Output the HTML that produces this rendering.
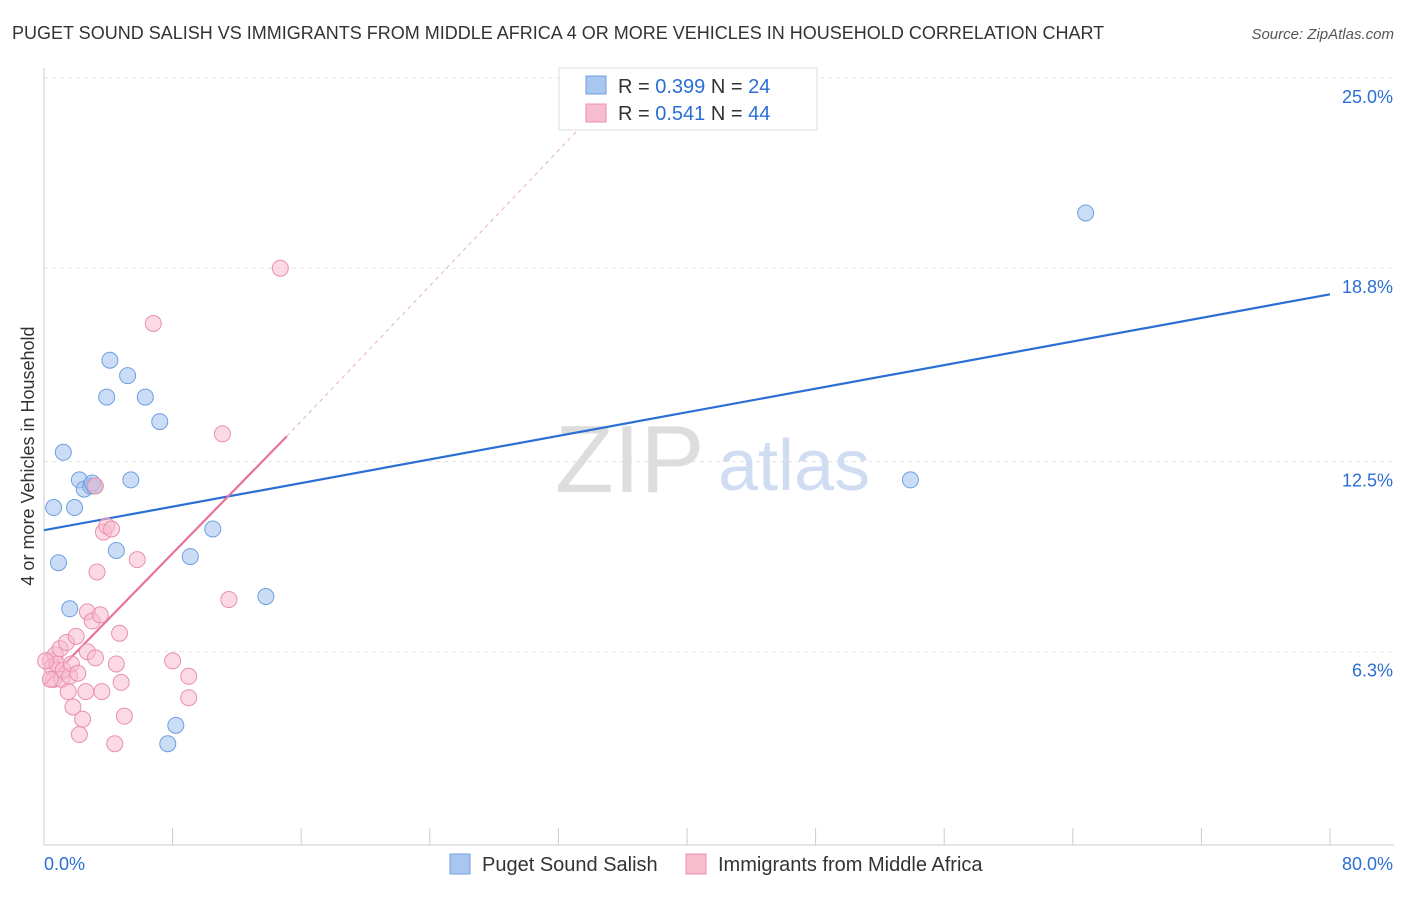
<!DOCTYPE html>
<html><head><meta charset="utf-8"><style>
body{margin:0;background:#fff;font-family:"Liberation Sans",sans-serif;}
svg text{font-family:"Liberation Sans",sans-serif;}
</style></head><body>
<svg width="1406" height="892" xmlns="http://www.w3.org/2000/svg">
<text x="12" y="39" font-size="18" fill="#333">PUGET SOUND SALISH VS IMMIGRANTS FROM MIDDLE AFRICA 4 OR MORE VEHICLES IN HOUSEHOLD CORRELATION CHART</text>
<text x="1394" y="39" font-size="15" fill="#555" text-anchor="end" font-style="italic">Source: ZipAtlas.com</text>
<g id="grid"></g>
<text x="555" y="492" font-size="96" fill="#ddd" font-family="Liberation Serif">ZIP</text>
<text x="718" y="490" font-size="72" fill="#cfdcf2">atlas</text>
<g id="axes"></g>
<g id="lines"></g>
<g id="pts"></g>
<text x="34" y="456" font-size="18" fill="#333" text-anchor="middle" transform="rotate(-90 34 456)">4 or more Vehicles in Household</text>
<g>
<rect x="559" y="68" width="258" height="62" fill="#fff" stroke="#ddd"/>
<rect x="586" y="76" width="20" height="18" fill="#a9c6f0" stroke="#6f9fe0"/>
<rect x="586" y="104" width="20" height="18" fill="#f7bccd" stroke="#e890ad"/>
<text x="618" y="93" font-size="20" fill="#333">R = <tspan fill="#2b6fd4">0.399</tspan>   N = <tspan fill="#2b6fd4">24</tspan></text>
<text x="618" y="120" font-size="20" fill="#333">R = <tspan fill="#2b6fd4">0.541</tspan>   N = <tspan fill="#2b6fd4">44</tspan></text>
</g>
<g>
<rect x="450" y="854" width="20" height="20" fill="#a9c6f0" stroke="#6f9fe0"/>
<text x="482" y="871" font-size="20" fill="#333">Puget Sound Salish</text>
<rect x="686" y="854" width="20" height="20" fill="#f7bccd" stroke="#e890ad"/>
<text x="718" y="871" font-size="20" fill="#333">Immigrants from Middle Africa</text>
</g>
</svg>
<script>
const yTicks=[25.0,18.8,12.5,6.3];
const yTickLabels=["25.0%","18.8%","12.5%","6.3%"];
const xTicks=[0,8,16,24,32,40,48,56,64,72,80];
const blueX=[0.6,0.9,1.2,1.6,1.9,2.2,2.5,2.9,3.1,4.1,3.9,4.5,5.2,5.4,6.3,7.2,8.2,7.7,9.1,10.5,13.8,53.9,64.8,3.0];
const blueY=[11.0,9.2,12.8,7.7,11.0,11.9,11.6,11.7,11.7,15.8,14.6,9.6,15.3,11.9,14.6,13.8,3.9,3.3,9.4,10.3,8.1,11.9,20.6,11.8];
const pinkX=[0.4,0.5,0.6,0.7,0.8,1.0,1.1,1.2,1.4,1.5,1.6,1.7,1.8,2.0,2.1,2.2,2.4,2.6,2.7,2.7,3.0,3.2,3.3,3.5,3.6,3.7,3.9,4.2,4.4,4.5,4.7,4.8,5.0,5.8,6.8,8.0,9.0,9.0,11.1,11.5,14.7,3.2,0.1,0.4];
const pinkY=[6.0,5.8,5.4,6.2,5.9,6.4,5.4,5.7,6.6,5.0,5.5,5.9,4.5,6.8,5.6,3.6,4.1,5.0,6.3,7.6,7.3,6.1,8.9,7.5,5.0,10.2,10.4,10.3,3.3,5.9,6.9,5.3,4.2,9.3,17.0,6.0,5.5,4.8,13.4,8.0,18.8,11.7,6.0,5.4];
const blueLine=[[0,10.26],[80,17.95]];
const pinkLine=[[0,5.21],[15.1,13.32]];
const pinkDash=[[15.1,13.32],[33.2,23.3]];
const NS="http://www.w3.org/2000/svg";
const X=v=>44+v*16.075, Y=v=>845-v*30.68;
function mk(p,t,a){const e=document.createElementNS(NS,t);for(const k in a)e.setAttribute(k,a[k]);document.getElementById(p).appendChild(e);return e;}
yTicks.forEach((t,i)=>{
 let l=mk('grid','line',{x1:44,x2:1394,y1:Y(t),y2:Y(t),stroke:'#e3e3e3','stroke-dasharray':'4,4'});
 
 
 let tx=mk('grid','text',{x:1393,y:Y(t)+25,'font-size':18,fill:'#2b6fd4','text-anchor':'end'});tx.textContent=yTickLabels[i];
 
 
});
let ax=mk('axes','line',{x1:44,x2:1394,y1:845,y2:845,stroke:'#ccc'});


let ay=mk('axes','line',{x1:44,x2:44,y1:68,y2:845,stroke:'#ccc'});


xTicks.forEach(t=>{let l=mk('axes','line',{x1:X(t),x2:X(t),y1:828,y2:845,stroke:'#ccc'});
 
 });
let a0=mk('axes','text',{x:44,y:870,'font-size':18,fill:'#2b6fd4'});a0.textContent='0.0%';


let a1=mk('axes','text',{x:1393,y:870,'font-size':18,fill:'#2b6fd4','text-anchor':'end'});a1.textContent='80.0%';


blueX.forEach((v,i)=>{let c=mk('pts','circle',{cx:X(v),cy:Y(blueY[i]),r:8,fill:'#a9c6f0','fill-opacity':0.6,stroke:'#6f9fe0','stroke-width':1});
 
 });
pinkX.forEach((v,i)=>{let c=mk('pts','circle',{cx:X(v),cy:Y(pinkY[i]),r:8,fill:'#f7bccd','fill-opacity':0.55,stroke:'#e890ad','stroke-width':1});
 
 });
let d=mk('lines','line',{x1:X(pinkDash[0][0]),y1:Y(pinkDash[0][1]),x2:X(pinkDash[1][0]),y2:Y(pinkDash[1][1]),stroke:'#e8b0c2','stroke-dasharray':'4,4','stroke-width':1});


let b=mk('lines','line',{x1:X(blueLine[0][0]),y1:Y(blueLine[0][1]),x2:X(blueLine[1][0]),y2:Y(blueLine[1][1]),stroke:'#2b6fd4','stroke-width':2.2});


let p=mk('lines','line',{x1:X(pinkLine[0][0]),y1:Y(pinkLine[0][1]),x2:X(pinkLine[1][0]),y2:Y(pinkLine[1][1]),stroke:'#e8739a','stroke-width':2.2});


</script>
</body></html>
